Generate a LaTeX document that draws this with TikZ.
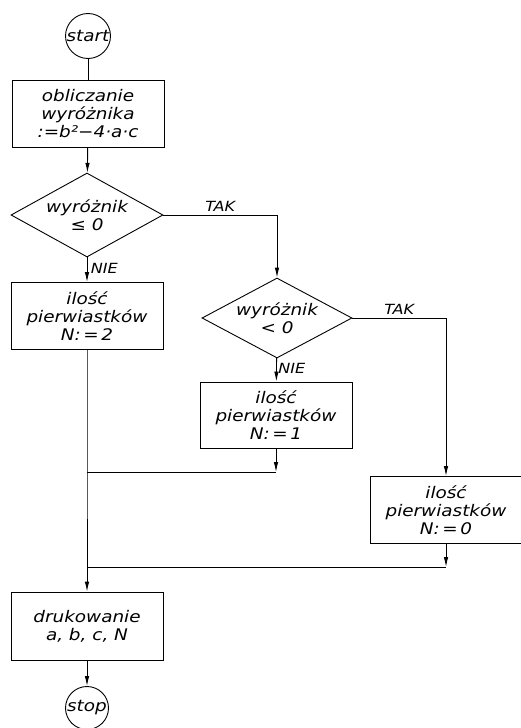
\documentclass[tikz,border=0pt]{standalone}
\usepackage{fontspec}
\setmainfont{DejaVu Sans}[FakeStretch=1.15]
\usetikzlibrary{arrows.meta, positioning, shapes.geometric}
\tikzset{
  terminal/.style={circle,draw,line width=0.9pt,minimum size=45pt,inner sep=0pt},
  procbox/.style={rectangle,draw,line width=0.9pt,minimum width=152pt,minimum height=67pt,align=center,inner sep=2pt},
  decision/.style={diamond,draw,line width=0.9pt,minimum width=152pt,minimum height=84pt,aspect=1.8,align=center,inner sep=1pt},
  flow/.style={line width=0.9pt,-{Latex[length=10pt,width=4.5pt]}},
  plain/.style={line width=0.9pt},
  answer/.style={font=\fontsize{14}{16}\selectfont\itshape},
}
\begin{document}
\begin{tikzpicture}[x=1pt,y=-1pt,font=\fontsize{16}{18}\selectfont\itshape]
      \useasboundingbox (0,0) rectangle (520,728);
      \node[terminal] (start) at (88,36) {start};
      \node[procbox] (calc) at (88,114) {obliczanie\\wyróżnika\\:=b²−4·a·c};
      \node[decision] (dec1) at (87,215) {wyróżnik\\≤ 0};
      \node[procbox] (two) at (87,316) {ilość\\pierwiastków\\N:\,=\,2};
      \node[decision,minimum width=150pt,minimum height=80pt] (dec2) at (277,318) {wyróżnik\\< 0};
      \node[procbox,minimum height=66pt] (one) at (276,415) {ilość\\pierwiastków\\N:\,=\,1};
      \node[procbox] (zero) at (446,510) {ilość\\pierwiastków\\N:\,=\,0};
      \node[procbox,minimum height=68pt] (print) at (87,626) {drukowanie\\a, b, c, N};
      \node[terminal,minimum size=43pt] (stop) at (87,708) {stop};

      \coordinate (tak1) at (277,215);
      \coordinate (tak2) at (446,318);
      \coordinate (join1) at (87,472);
      \coordinate (join2) at (87,567);
      \coordinate (bend1) at (276,472);
      \coordinate (bend2) at (446,567);

      \draw[plain] (start) -- (calc);
      \draw[flow] (calc) -- (dec1);
      \draw[flow] (dec1) -- node[answer,right,pos=0.45] {NIE} (two);
      \draw[plain] (dec1.east) -- node[answer,above,pos=0.5] {TAK} (tak1);
      \draw[flow] (tak1) -- (dec2.north);
      \draw[flow] (dec2) -- node[answer,right,pos=0.45,xshift=-2pt] {NIE} (one);
      \draw[plain] (dec2.east) -- node[answer,above,pos=0.5] {TAK} (tak2);
      \draw[flow] (tak2) -- (zero.north);
      \draw[flow] (one) -- (bend1);
      \draw[plain] (bend1) -- (join1);
      \draw[flow] (zero) -- (bend2);
      \draw[plain] (bend2) -- (join2);
      \draw[plain] (two) -- (join1) -- (join2);
      \draw[flow] (join2) -- (print);
      \draw[flow] (print) -- (stop);
    \end{tikzpicture}
\end{document}
